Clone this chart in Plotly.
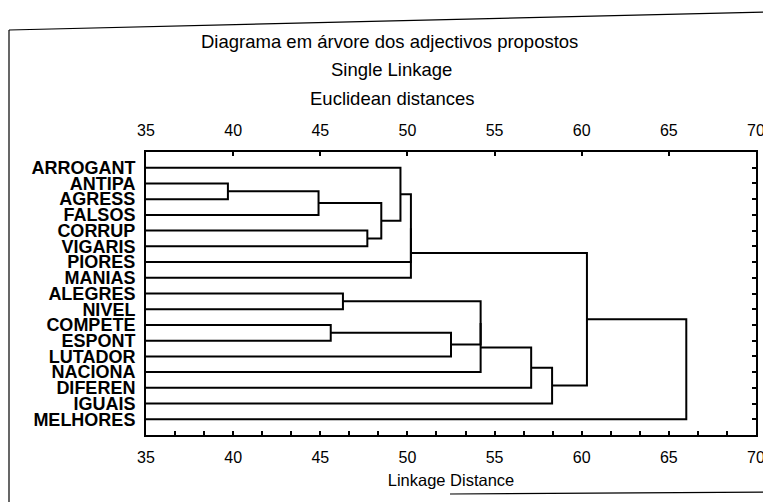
import plotly.graph_objects as go

# ---- data ----
leaves = ["ARROGANT", "ANTIPA", "AGRESS", "FALSOS", "CORRUP", "VIGARIS", "PIORES",
          "MANIAS", "ALEGRES", "NIVEL", "COMPETE", "ESPONT", "LUTADOR", "NACIONA",
          "DIFEREN", "IGUAIS", "MELHORES"]
# merges: cluster ids 0..16 are leaves, 17.. are merged clusters in order
merge_a = [1, 17, 4, 18, 0, 21, 22, 8, 10, 25, 24, 27, 28, 29, 23, 31]
merge_b = [2, 3, 5, 19, 20, 6, 7, 9, 11, 12, 26, 13, 14, 15, 30, 16]
merge_height = [39.7, 44.9, 47.7, 48.5, 49.6, 50.2, 50.2, 46.3, 45.6, 52.5,
                54.2, 54.2, 57.1, 58.3, 60.3, 66.0]
x_ticks = [35, 40, 45, 50, 55, 60, 65, 70]
x_range = [35, 70]

# ---- geometry from data ----
n = len(leaves)
node_x = {i: x_range[0] for i in range(n)}
node_y = {i: i + 1 for i in range(n)}
xs, ys = [], []
for k, (a, b, h) in enumerate(zip(merge_a, merge_b, merge_height)):
    xs += [node_x[a], h, h, node_x[b], None]
    ys += [node_y[a], node_y[a], node_y[b], node_y[b], None]
    node_x[n + k] = h
    node_y[n + k] = (node_y[a] + node_y[b]) / 2

# page has an 8px body margin: figure placed at (8, 8)
OFF = 8
W, H = 771 - OFF, 502 - OFF
L, T = 146 - OFF, 152 - OFF
R = W - (756 - OFF)
B = H - (435 - OFF)
pw, ph = W - L - R, H - T - B

def px(x):
    return (x - OFF - L) / pw

def py(y):
    return (H - B - (y - OFF)) / ph

fig = go.Figure()
fig.add_trace(go.Scatter(x=xs, y=ys, mode="lines",
                         line=dict(color="black", width=2),
                         hoverinfo="skip", showlegend=False))
fig.add_trace(go.Scatter(x=[None], y=[None], xaxis="x2", yaxis="y2",
                         mode="lines", showlegend=False, hoverinfo="skip"))

tickfont = dict(family="Liberation Sans, Arial, sans-serif", size=16, color="black")
fig.update_layout(
    width=W, height=H,
    margin=dict(l=L, r=R, t=T, b=B),
    paper_bgcolor="white", plot_bgcolor="white",
    showlegend=False,
    font=dict(family="Liberation Sans, Arial, sans-serif", color="black"),
    xaxis=dict(range=x_range, tickvals=x_ticks, ticks="inside", ticklen=4,
               tickcolor="black", tickwidth=1.5, automargin=False,
               minor=dict(tick0=35, dtick=5 / 3, ticks="inside", ticklen=4,
                          tickcolor="black", tickwidth=1.5),
               showline=True, linewidth=2, linecolor="black",
               showgrid=False, zeroline=False, tickfont=tickfont,
               ticklabelstandoff=7,
               title=dict(text="Linkage Distance", font=dict(size=16.5), standoff=9)),
    xaxis2=dict(range=x_range, tickvals=x_ticks, ticks="inside", ticklen=4,
                tickcolor="black", tickwidth=1.5, overlaying="x", side="top",
                anchor="y", showline=True, linewidth=2, linecolor="black",
                showgrid=False, zeroline=False, tickfont=tickfont,
                ticklabelstandoff=8, automargin=False),
    yaxis=dict(range=[n + 1, 0], tickvals=list(range(1, n + 1)), ticktext=leaves,
               ticks="", showline=True, linewidth=2, linecolor="black",
               showgrid=False, zeroline=False, ticklabelstandoff=5,
               automargin=False,
               tickfont=dict(family="Liberation Sans, Arial, sans-serif", size=18,
                             color="black", weight="bold")),
    yaxis2=dict(range=[n + 1, 0], tickvals=list(range(1, n + 1)), ticks="inside",
                ticklen=4, tickcolor="black", tickwidth=1.5, overlaying="y",
                side="right", anchor="x", showticklabels=False, showline=True,
                linewidth=2, linecolor="black", showgrid=False, zeroline=False,
                automargin=False),
)

titles = [("Diagrama em árvore dos adjectivos propostos", 389, 42),
          ("Single Linkage", 391, 70),
          ("Euclidean distances", 392, 98)]
for text, x, y in titles:
    fig.add_annotation(text=text, xref="paper", yref="paper", x=px(x), y=py(y),
                       xanchor="center", yanchor="middle", showarrow=False,
                       font=dict(size=18.5, color="black"))

# scanned page frame
frame = [((9, 30), (771, 12)), ((9, 30), (9, 502)), ((450, 494), (771, 492))]
for (x0, y0), (x1, y1) in frame:
    fig.add_shape(type="line", xref="paper", yref="paper",
                  x0=px(x0), y0=py(y0), x1=px(x1), y1=py(y1),
                  line=dict(color="black", width=1.2))

fig.write_html("out.html")
